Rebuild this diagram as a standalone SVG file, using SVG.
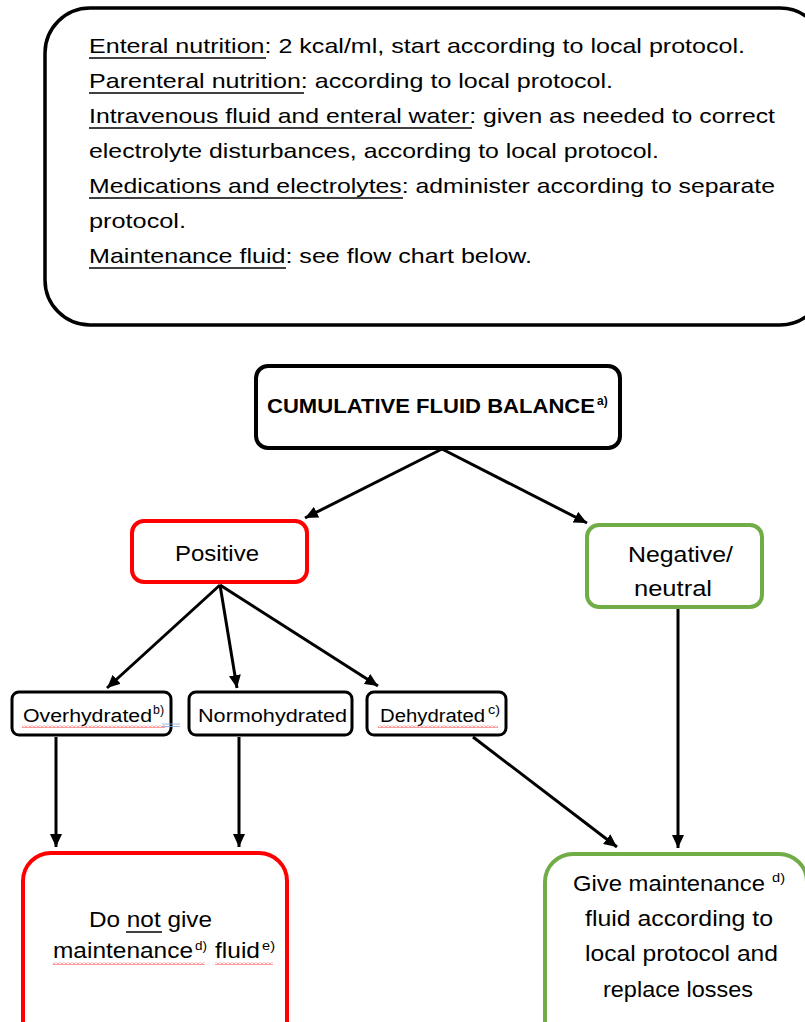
<svg xmlns="http://www.w3.org/2000/svg" width="805" height="1022" viewBox="0 0 805 1022">
<style>
text{font-family:"Liberation Sans",Arial,sans-serif;fill:#000}
.t{font-size:21px}
.s{font-size:18px}
.sup{font-size:12px}
.ul{stroke:#000;stroke-width:1.5}
.bk{fill:#fff;stroke:#000;stroke-width:4}
.rd{fill:#fff;stroke:#ff0000;stroke-width:4}
.gn{fill:#fff;stroke:#70ad47;stroke-width:4}
.c{stroke:#000;stroke-width:3;fill:none;marker-end:url(#ah)}
</style>
<defs>
<marker id="ah" markerUnits="userSpaceOnUse" markerWidth="14" markerHeight="12" refX="13" refY="6" orient="auto">
<path d="M0 0 L13 6 L0 12 Z" fill="#000"/>
</marker>
<pattern id="wave" patternUnits="userSpaceOnUse" width="4" height="3">
<path d="M0 2.5 L2 0.5 L4 2.5" fill="none" stroke="#ff0000" stroke-width="0.8"/>
</pattern>
</defs>
<rect width="805" height="1022" fill="#fff"/>

<g id="info">
<rect x="45" y="8" width="780" height="317" rx="45" fill="#fff" stroke="#000" stroke-width="3.5"/>
<text class="t" x="89" y="53" textLength="656" lengthAdjust="spacingAndGlyphs">Enteral nutrition: 2 kcal/ml, start according to local protocol.</text>
<line class="ul" x1="89" y1="58" x2="266" y2="58"/>
<text class="t" x="89" y="88" textLength="524" lengthAdjust="spacingAndGlyphs">Parenteral nutrition: according to local protocol.</text>
<line class="ul" x1="89" y1="93" x2="304" y2="93"/>
<text class="t" x="89" y="123" textLength="686" lengthAdjust="spacingAndGlyphs">Intravenous fluid and enteral water: given as needed to correct</text>
<line class="ul" x1="89" y1="128" x2="472" y2="128"/>
<text class="t" x="89" y="158" textLength="570" lengthAdjust="spacingAndGlyphs">electrolyte disturbances, according to local protocol.</text>
<text class="t" x="89" y="193" textLength="686" lengthAdjust="spacingAndGlyphs">Medications and electrolytes: administer according to separate</text>
<line class="ul" x1="89" y1="198" x2="403" y2="198"/>
<text class="t" x="89" y="228" textLength="97" lengthAdjust="spacingAndGlyphs">protocol.</text>
<text class="t" x="89" y="263" textLength="443" lengthAdjust="spacingAndGlyphs">Maintenance fluid: see flow chart below.</text>
<line class="ul" x1="89" y1="268" x2="286" y2="268"/>
</g>

<g id="connectors">
<line class="c" x1="442" y1="449" x2="305" y2="518"/>
<line class="c" x1="442" y1="449" x2="587" y2="523"/>
<line class="c" x1="220" y1="585" x2="107" y2="688"/>
<line class="c" x1="220" y1="585" x2="237" y2="688"/>
<line class="c" x1="220" y1="585" x2="378" y2="686"/>
<line class="c" x1="56" y1="737" x2="56" y2="847"/>
<line class="c" x1="239" y1="737" x2="239" y2="847"/>
<line class="c" x1="473" y1="737" x2="617" y2="847"/>
<line class="c" x1="678" y1="608" x2="678" y2="848"/>
</g>

<g id="balance">
<rect class="bk" x="256" y="366" width="364" height="82" rx="12"/>
<text x="267" y="413" font-size="20" font-weight="bold" textLength="328" lengthAdjust="spacingAndGlyphs">CUMULATIVE FLUID BALANCE</text>
<text x="597" y="405" font-size="12" font-weight="bold">a)</text>
</g>

<g id="positive">
<rect class="rd" x="132" y="521" width="175" height="61" rx="12"/>
<text x="175" y="561" font-size="22" textLength="84" lengthAdjust="spacingAndGlyphs">Positive</text>
</g>

<g id="negative">
<rect class="gn" x="587" y="525" width="175" height="82" rx="12"/>
<text x="628" y="562" font-size="22" textLength="105" lengthAdjust="spacingAndGlyphs">Negative/</text>
<text x="634" y="596" font-size="22" textLength="78" lengthAdjust="spacingAndGlyphs">neutral</text>
</g>

<g id="overhydrated">
<rect x="12" y="692" width="159" height="43" rx="7" fill="#fff" stroke="#000" stroke-width="3"/>
<text class="s" x="23" y="722" textLength="129" lengthAdjust="spacingAndGlyphs">Overhydrated</text>
<text class="sup" x="153" y="714" textLength="11" lengthAdjust="spacingAndGlyphs">b)</text>
<rect x="22" y="725" width="143" height="3" fill="url(#wave)"/>
<line x1="162" y1="724" x2="180" y2="724" stroke="#8faadc" stroke-width="0.8"/>
<line x1="162" y1="726.5" x2="180" y2="726.5" stroke="#8faadc" stroke-width="0.8"/>
</g>

<g id="normohydrated">
<rect x="189" y="692" width="163" height="43" rx="7" fill="#fff" stroke="#000" stroke-width="3"/>
<text class="s" x="198" y="722" textLength="149" lengthAdjust="spacingAndGlyphs">Normohydrated</text>
</g>

<g id="dehydrated">
<rect x="367" y="692" width="139" height="43" rx="7" fill="#fff" stroke="#000" stroke-width="3"/>
<text class="s" x="380" y="722" textLength="105" lengthAdjust="spacingAndGlyphs">Dehydrated</text>
<text class="sup" x="488" y="714" textLength="12" lengthAdjust="spacingAndGlyphs">c)</text>
<rect x="378" y="725" width="120" height="3" fill="url(#wave)"/>
</g>

<g id="no-fluid">
<rect class="rd" x="23" y="853" width="264" height="200" rx="28"/>
<text x="89" y="927" font-size="22" textLength="123" lengthAdjust="spacingAndGlyphs">Do not give</text>
<line class="ul" x1="126" y1="932" x2="162" y2="932"/>
<text x="53" y="958" font-size="22" textLength="140" lengthAdjust="spacingAndGlyphs">maintenance</text>
<text class="sup" x="195" y="950" textLength="12" lengthAdjust="spacingAndGlyphs">d)</text>
<text x="215" y="958" font-size="22" textLength="45" lengthAdjust="spacingAndGlyphs">fluid</text>
<text class="sup" x="262" y="950" textLength="13" lengthAdjust="spacingAndGlyphs">e)</text>
<rect x="53" y="962" width="152" height="3" fill="url(#wave)"/>
<rect x="215" y="962" width="58" height="3" fill="url(#wave)"/>
</g>

<g id="give-fluid">
<rect class="gn" x="545" y="854" width="262" height="200" rx="28"/>
<text x="573" y="891" font-size="22" textLength="192" lengthAdjust="spacingAndGlyphs">Give maintenance</text>
<text class="sup" x="772" y="882" textLength="13" lengthAdjust="spacingAndGlyphs">d)</text>
<text x="585" y="926" font-size="22" textLength="188" lengthAdjust="spacingAndGlyphs">fluid according to</text>
<text x="585" y="961" font-size="22" textLength="193" lengthAdjust="spacingAndGlyphs">local protocol and</text>
<text x="603" y="997" font-size="22" textLength="150" lengthAdjust="spacingAndGlyphs">replace losses</text>
</g>
</svg>
